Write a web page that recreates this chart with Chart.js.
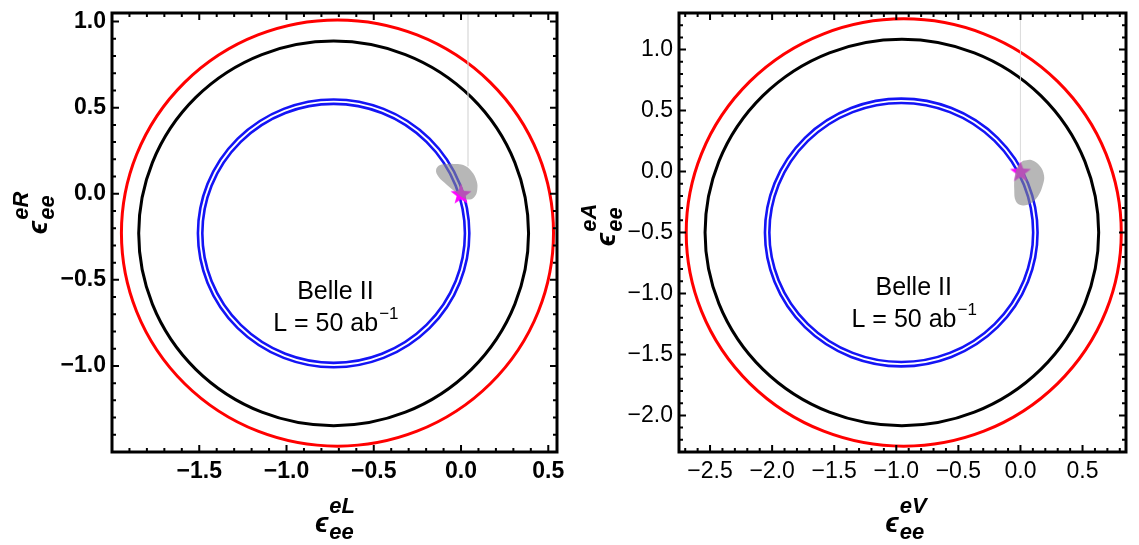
<!DOCTYPE html>
<html>
<head>
<meta charset="utf-8">
<script src="https://cdn.jsdelivr.net/npm/chart.js@4.4.1/dist/chart.umd.min.js"></script>
<style>
  html, body { margin: 0; padding: 0; background: #fff; }
  #wrap { position: relative; width: 1139px; height: 545px; }
  canvas { position: absolute; top: 0; }
</style>
</head>
<body>
<div id="wrap">
  <canvas id="left" width="570" height="545" style="left:0"></canvas>
  <canvas id="right" width="570" height="545" style="left:569px"></canvas>
</div>
<script>
// tick labels
var leftXTicks = [-1.5, -1.0, -0.5, 0.0, 0.5];
var leftYTicks = [-1.0, -0.5, 0.0, 0.5, 1.0];
var rightXTicks = [-2.5, -2.0, -1.5, -1.0, -0.5, 0.0, 0.5];
var rightYTicks = [-2.0, -1.5, -1.0, -0.5, 0.0, 0.5, 1.0];

// contours: centre x, centre y, radius (red, black, blue)
var leftCX = [-0.708, -0.73, -0.73];
var leftCY = [-0.228, -0.23, -0.23];
var leftR = [1.238, 1.117, 0.765];
var rightCX = [-0.94, -0.955, -0.96];
var rightCY = [-0.5, -0.5, -0.5];
var rightR = [1.752, 1.585, 1.08];

// grey allowed region
var leftBlobX = [-0.063, 0.013, 0.061, 0.090, 0.093, 0.080, 0.051, 0.013, -0.025, -0.082, -0.130, -0.143, -0.120, -0.063];
var leftBlobY = [0.174, 0.167, 0.129, 0.072, 0.024, -0.014, -0.033, -0.024, 0.005, 0.053, 0.100, 0.139, 0.167, 0.174];
var rightBlobX = [0.021, 0.088, 0.155, 0.190, 0.180, 0.140, 0.075, 0.008, -0.037, -0.050, -0.045, -0.019, 0.021];
var rightBlobY = [0.088, 0.095, 0.048, -0.032, -0.111, -0.204, -0.265, -0.276, -0.244, -0.151, -0.032, 0.048, 0.088];

// faint streak above the region
var leftStreakX = [0.04, 0.04];
var leftStreakY = [1.05, 0.16];
var rightStreakX = [0.0, 0.0];
var rightStreakY = [1.3, 0.09];

// best fit / SM point
var starX = [0.0];
var starY = [0.0];

var FONT = '"Liberation Sans", Arial, sans-serif';

function pts(xs, ys){
  return xs.map(function(x, i){ return { x: x, y: ys[i] }; });
}
function fmt(v){
  return v.toFixed(1).replace('-', '\u2212');
}

var starImg = (function(){
  var c = document.createElement('canvas');
  c.width = 24; c.height = 24;
  var g = c.getContext('2d');
  g.fillStyle = '#ff00ff';
  g.beginPath();
  for (var i = 0; i < 10; i++){
    var r = i % 2 ? 4.6 : 11;
    var a = -Math.PI / 2 + i * Math.PI / 5;
    g.lineTo(12 + r * Math.cos(a), 12.8 + r * Math.sin(a));
  }
  g.closePath();
  g.fill();
  return c;
})();

function drawEps(ctx, tx, ty, rot, sup, sub){
  ctx.save();
  ctx.translate(tx, ty);
  ctx.rotate(rot);
  ctx.fillStyle = '#000';
  ctx.textBaseline = 'alphabetic';
  ctx.textAlign = 'left';
  ctx.font = 'italic bold 28px ' + FONT;
  var wE = ctx.measureText('\u03f5').width;
  ctx.font = 'italic bold 22px ' + FONT;
  var wS = Math.max(ctx.measureText(sup).width, ctx.measureText(sub).width);
  var x0 = -(wE + 1 + wS) / 2;
  ctx.font = 'italic bold 28px ' + FONT;
  ctx.fillText('\u03f5', x0, 0);
  ctx.font = 'italic bold 22px ' + FONT;
  ctx.fillText(sup, x0 + wE + 1, -19);
  ctx.fillText(sub, x0 + wE + 1, 7);
  ctx.restore();
}

function drawBelle(ctx, cx, cy){
  ctx.save();
  ctx.fillStyle = '#000';
  ctx.textBaseline = 'middle';
  ctx.textAlign = 'center';
  ctx.font = '25px ' + FONT;
  ctx.fillText('Belle II', cx, cy);
  var main = 'L = 50 ab';
  var w1 = ctx.measureText(main).width;
  ctx.font = '17px ' + FONT;
  var w2 = ctx.measureText('\u22121').width;
  var x0 = cx - (w1 + w2) / 2;
  ctx.textAlign = 'left';
  ctx.font = '25px ' + FONT;
  ctx.fillText(main, x0, cy + 32);
  ctx.font = '17px ' + FONT;
  ctx.fillText('\u22121', x0 + w1 + 1, cy + 22);
  ctx.restore();
}

function panel(id, o){
  var circlesPlugin = {
    id: 'circles',
    beforeDatasetsDraw: function(chart){
      var ctx = chart.ctx, xs = chart.scales.x, ys = chart.scales.y;
      var styles = [['#ff0000', 3], ['#000000', 3], ['#1414f5', 7]];
      o.r.forEach(function(r, i){
        var px = xs.getPixelForValue(o.cx[i]);
        var py = ys.getPixelForValue(o.cy[i]);
        var rx = xs.getPixelForValue(o.cx[i] + r) - px;
        var ry = py - ys.getPixelForValue(o.cy[i] + r);
        ctx.save();
        ctx.beginPath();
        ctx.ellipse(px, py, rx, ry, 0, 0, Math.PI * 2);
        ctx.strokeStyle = styles[i][0];
        ctx.lineWidth = styles[i][1];
        ctx.stroke();
        if (i === 2){
          ctx.strokeStyle = '#ffffff';
          ctx.lineWidth = 1.8;
          ctx.stroke();
        }
        ctx.restore();
      });
    }
  };

  var framePlugin = {
    id: 'frame',
    afterDraw: function(chart){
      var ctx = chart.ctx, a = chart.chartArea;
      var xs = chart.scales.x, ys = chart.scales.y;
      ctx.save();
      ctx.strokeStyle = '#000';
      ctx.lineCap = 'butt';
      // minor + major ticks on all four sides
      function ticks(scale, horizontal){
        var lo = Math.ceil(scale.min * 10 - 1e-6), hi = Math.floor(scale.max * 10 + 1e-6);
        for (var k = lo; k <= hi; k++){
          var v = k / 10;
          var major = Math.abs(v * 2 - Math.round(v * 2)) < 1e-6;
          var len = major ? 7 : 4;
          var p = scale.getPixelForValue(v);
          ctx.lineWidth = 2;
          ctx.beginPath();
          if (horizontal){
            ctx.moveTo(p, a.bottom); ctx.lineTo(p, a.bottom - len);
            ctx.moveTo(p, a.top); ctx.lineTo(p, a.top + len);
          } else {
            ctx.moveTo(a.left, p); ctx.lineTo(a.left + len, p);
            ctx.moveTo(a.right, p); ctx.lineTo(a.right - len, p);
          }
          ctx.stroke();
        }
      }
      ticks(xs, true);
      ticks(ys, false);
      ctx.lineWidth = 3;
      ctx.strokeRect(a.left, a.top, a.right - a.left, a.bottom - a.top);
      ctx.restore();

      drawBelle(ctx, xs.getPixelForValue(o.textAt[0]), ys.getPixelForValue(o.textAt[1]));
      drawEps(ctx, o.xTitleAt[0], o.xTitleAt[1], 0, o.xSup, 'ee');
      drawEps(ctx, o.yTitleAt[0], o.yTitleAt[1], -Math.PI / 2, o.ySup, 'ee');
    }
  };

  var tickFont = { family: FONT, size: 23, weight: o.bold ? 'bold' : 'normal' };

  return new Chart(document.getElementById(id), {
    type: 'scatter',
    data: {
      datasets: [
        {
          data: pts(o.streakX, o.streakY),
          showLine: true,
          borderColor: 'rgba(215,215,215,0.5)',
          borderWidth: 1,
          pointRadius: 0
        },
        {
          data: pts(o.blobX, o.blobY),
          showLine: true,
          fill: 'shape',
          tension: 0.4,
          borderWidth: 0,
          borderColor: 'rgba(0,0,0,0)',
          backgroundColor: 'rgba(135,135,135,0.6)',
          pointRadius: 0
        },
        {
          data: pts(starX, starY),
          pointStyle: starImg,
          pointRadius: 12
        }
      ]
    },
    options: {
      responsive: false,
      animation: false,
      devicePixelRatio: 1,
      layout: { padding: { left: 0, top: o.padTop, right: o.padRight, bottom: 0 } },
      plugins: { legend: { display: false }, tooltip: { enabled: false } },
      scales: {
        x: {
          type: 'linear',
          min: o.xRange[0], max: o.xRange[1],
          grid: { display: false, drawTicks: false },
          border: { display: false },
          afterBuildTicks: function(s){ s.ticks = o.xTicks.map(function(v){ return { value: v }; }); },
          afterFit: function(s){ s.height = 93; s.paddingLeft = 0; s.paddingRight = 0; },
          ticks: { font: tickFont, color: '#000', padding: 6, maxRotation: 0, autoSkip: false, callback: function(v){ return fmt(v); } }
        },
        y: {
          type: 'linear',
          min: o.yRange[0], max: o.yRange[1],
          grid: { display: false, drawTicks: false },
          border: { display: false },
          afterBuildTicks: function(s){ s.ticks = o.yTicks.map(function(v){ return { value: v }; }); },
          afterFit: function(s){ s.width = o.axisW; s.paddingTop = 0; s.paddingBottom = 0; },
          ticks: { font: tickFont, color: '#000', padding: 6, autoSkip: false, callback: function(v){ return fmt(v); } }
        }
      }
    },
    plugins: [circlesPlugin, framePlugin]
  });
}

panel('left', {
  xRange: [-2.0, 0.55], yRange: [-1.5, 1.05],
  xTicks: leftXTicks, yTicks: leftYTicks,
  cx: leftCX, cy: leftCY, r: leftR,
  blobX: leftBlobX, blobY: leftBlobY,
  streakX: leftStreakX, streakY: leftStreakY,
  bold: true, axisW: 112, padTop: 7, padRight: 13,
  textAt: [-0.72, -0.57],
  xSup: 'eL', ySup: 'eR',
  xTitleAt: [335, 532], yTitleAt: [47, 213]
});

panel('right', {
  xRange: [-2.75, 0.85], yRange: [-2.3, 1.3],
  xTicks: rightXTicks, yTicks: rightYTicks,
  cx: rightCX, cy: rightCY, r: rightR,
  blobX: rightBlobX, blobY: rightBlobY,
  streakX: rightStreakX, streakY: rightStreakY,
  bold: false, axisW: 110, padTop: 2, padRight: 8,
  textAt: [-0.86, -0.96],
  xSup: 'eV', ySup: 'eA',
  xTitleAt: [337, 532], yTitleAt: [46, 225]
});
</script>
</body>
</html>
